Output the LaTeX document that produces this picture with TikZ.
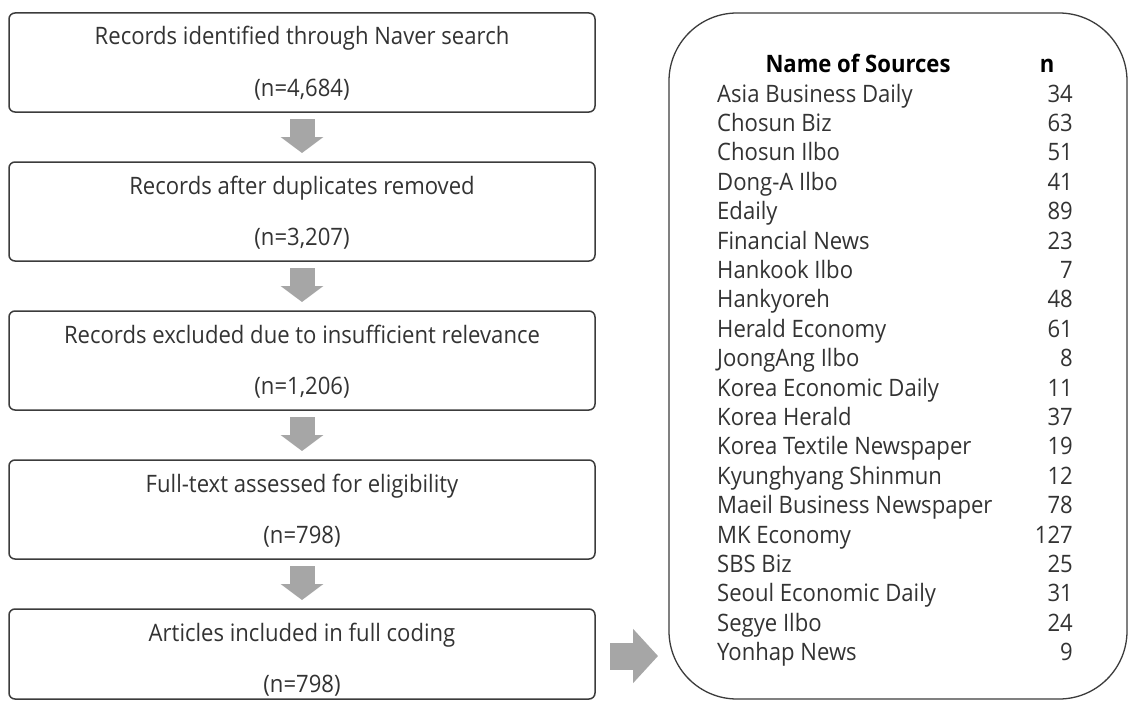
\documentclass[tikz,border=0pt]{standalone}
\usepackage{fontspec}
\setmainfont{Open Sans}[FakeStretch=0.92]
\usetikzlibrary{arrows.meta,calc}
\definecolor{boxline}{HTML}{3C3C3C}
\definecolor{arrowgray}{HTML}{A6A6A6}
\definecolor{txtcol}{HTML}{333333}
\begin{document}
\begin{tikzpicture}[x=1pt,y=-1pt,
  stepbox/.style={draw=boxline, line width=1.5pt, rounded corners=6pt,
    minimum width=586pt, inner sep=0pt, outer sep=0pt},
  txt/.style={text=txtcol, font=\fontsize{24}{28}\selectfont, inner sep=0pt, anchor=base},
  hdr/.style={txt, font=\fontsize{24}{28}\selectfont\bfseries, text=black},
  blk/.style={draw=arrowgray, line width=25pt, -{Triangle[width=42pt,length=16pt]}},
  blkr/.style={draw=arrowgray, line width=27pt, -{Triangle[width=53pt,length=25pt]}},
  srcbox/.style={draw=boxline, line width=1.3pt, rounded corners=68pt,
    minimum width=458pt, minimum height=686pt, inner sep=0pt, outer sep=0pt}
]
\useasboundingbox (0,0) rectangle (1129,701);
\fill[white] (0,0) rectangle (1129,701);

% left flow boxes
\node[stepbox, minimum height=99pt] (b1) at (302,62.5) {};
\node[stepbox, minimum height=99pt] (b2) at (302,211.5) {};
\node[stepbox, minimum height=99pt] (b3) at (302,360.5) {};
\node[stepbox, minimum height=99pt] (b4) at (302,509.5) {};
\node[stepbox, minimum height=90pt] (b5) at (302,654) {};

\node[txt] (t1) at ($(b1.north)+(0,32)$) {Records identified through Naver search};
\node[txt] (n1) at ($(b1.north)+(0,83)$) {(n=4,684)};
\node[txt] (t2) at ($(b2.north)+(0,32)$) {Records after duplicates removed};
\node[txt] (n2) at ($(b2.north)+(0,83)$) {(n=3,207)};
\node[txt] (t3) at ($(b3.north)+(0,32)$) {Records excluded due to insufficient relevance};
\node[txt] (n3) at ($(b3.north)+(0,83)$) {(n=1,206)};
\node[txt] (t4) at ($(b4.north)+(0,32)$) {Full-text assessed for eligibility};
\node[txt] (n4) at ($(b4.north)+(0,83)$) {(n=798)};
\node[txt] (t5) at ($(b5.north)+(0,32)$) {Articles included in full coding};
\node[txt] (n5) at ($(b5.north)+(0,83)$) {(n=798)};

% block arrows
\draw[blk] ($(b1.south)+(0,7)$) -- ($(b2.north)+(0,-9)$);
\draw[blk] ($(b2.south)+(0,7)$) -- ($(b3.north)+(0,-9)$);
\draw[blk] ($(b3.south)+(0,7)$) -- ($(b4.north)+(0,-9)$);
\draw[blk] ($(b4.south)+(0,7)$) -- ($(b5.north)+(0,-9)$);

% sources box
\node[srcbox] (src) at (898,356) {};
\draw[blkr] ($(b5.east)+(15,2)$) -- ($(b5.east -| src.west)+(-11,2)$);

\node[hdr] (hname) at (858,73) {Name of Sources};
\node[hdr] (hn) at (1047,73) {n};

\foreach \name/\val [count=\i from 0] in {
  Asia Business Daily/34, Chosun Biz/63, Chosun Ilbo/51, Dong-A Ilbo/41,
  Edaily/89, Financial News/23, Hankook Ilbo/7, Hankyoreh/48,
  Herald Economy/61, JoongAng Ilbo/8, Korea Economic Daily/11,
  Korea Herald/37, Korea Textile Newspaper/19, Kyunghyang Shinmun/12,
  Maeil Business Newspaper/78, MK Economy/127, SBS Biz/25,
  Seoul Economic Daily/31, Segye Ilbo/24, Yonhap News/9} {
  \node[txt, anchor=base west] (r\i) at (717,{102+29.4*\i}) {\name};
  \node[txt, anchor=base east] (v\i) at (1073,{102+29.4*\i}) {\val};
}
\end{tikzpicture}
\end{document}
